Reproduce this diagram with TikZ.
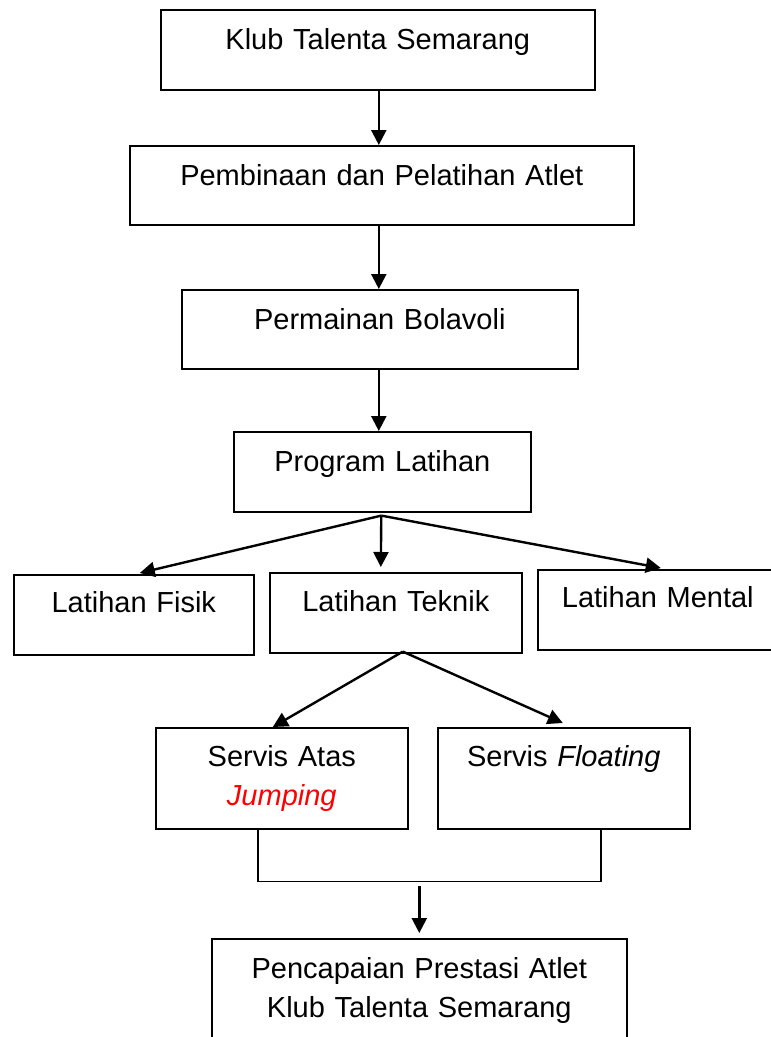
\documentclass[tikz,border=0pt]{standalone}
\usepackage{fontspec}
\setmainfont{Liberation Sans}
\usetikzlibrary{arrows.meta,calc}
\tikzset{
  box/.style={draw, line width=1.6pt, rectangle, inner sep=0pt, anchor=north west,
    align=center, font=\fontsize{29}{39}\selectfont},
  arr/.style={line width=2.4pt, -{Triangle[length=15pt,width=15pt]}},
  plain/.style={line width=1.6pt}
}
\begin{document}
\begin{tikzpicture}[x=1pt,y=-1pt]
\useasboundingbox (0,0) rectangle (771,1037);
\node[box, text width=434pt, text height=40pt, text depth=40pt] (b1) at (160,9) {Klub Talenta Semarang};
\node[box, text width=504pt, text height=40pt, text depth=39pt] (b2) at (129,145) {Pembinaan dan Pelatihan Atlet};
\node[box, text width=396pt, text height=40pt, text depth=39pt] (b3) at (181,289) {Permainan Bolavoli};
\node[box, text width=297pt, text height=40pt, text depth=40pt] (b4) at (233,431) {Program Latihan};
\node[box, text width=240pt, text height=38pt, text depth=42pt] (b5) at (13,574) {Latihan Fisik};
\node[box, text width=252pt, text height=39pt, text depth=41pt] (b6) at (269,572) {Latihan Teknik};
\node[box, text width=240pt, text height=38pt, text depth=42pt] (b7) at (537,569) {Latihan Mental};
\node[box, text width=252pt, text height=39pt, text depth=62pt] (b8) at (155,727) {Servis Atas\\\textcolor{red}{\itshape Jumping}};
\node[box, text width=252pt, text height=39pt, text depth=62pt] (b9) at (437,727) {Servis \textit{Floating}};
\node[box, text width=415pt, text height=40pt, text depth=71pt] (b10) at (211,938) {Pencapaian Prestasi Atlet\\Klub Talenta Semarang};
% vertical arrows
\coordinate (ax) at ($(b1.south)+(1,0)$);
\draw[arr] (ax) -- (ax |- b2.north);
\draw[arr] (ax |- b2.south) -- (ax |- b3.north);
\draw[arr] (ax |- b3.south) -- (ax |- b4.north);
% program latihan branches
\coordinate (p) at ($(b4.south)+(-1,3)$);
\draw[arr] (p) -- ($(b5.north)+(6,-1)$);
\draw[arr] (p) -- ($(b6.north)+(-15,-5)$);
\draw[arr] (p) -- ($(b7.north)+(3,-1)$);
% teknik branches
\coordinate (t) at ($(b6.south)+(7,-2)$);
\draw[arr] (t) -- ($(b8.north)+(-9,0)$);
\draw[arr] (t) -- ($(b9.north)+(-1,-4)$);
% bracket
\coordinate (l1) at ($(b8.south west)+(103,0)$);
\coordinate (r1) at ($(b9.south west)+(164,0)$);
\draw[plain] (l1) -- ++(0,52) coordinate (l2) -- (r1 |- l2) -- (r1);
\coordinate (m) at ($(b10.north)+(0,-52)$);
\draw[arr] (m) -- ($(b10.north)+(0,-5)$);
\end{tikzpicture}
\end{document}
